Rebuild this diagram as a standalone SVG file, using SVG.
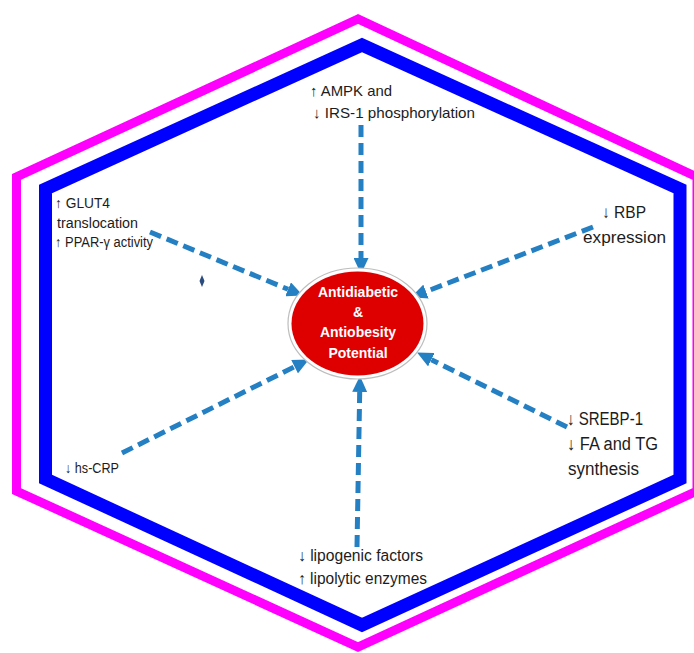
<svg xmlns="http://www.w3.org/2000/svg" width="694" height="653" viewBox="0 0 694 653">
<style>
.lbl{font-family:"Liberation Sans",Arial,sans-serif;fill:#1c1c1c;}
.ctr{font-family:"Liberation Sans",Arial,sans-serif;font-weight:bold;fill:#ffffff;font-size:14px;text-anchor:middle;}
.conn{stroke:#2480C3;stroke-width:5;stroke-dasharray:12 6;fill:none;marker-end:url(#ah);}
</style>
<defs>
<marker id="ah" markerUnits="userSpaceOnUse" markerWidth="16" markerHeight="15" refX="0" refY="7.5" orient="auto" viewBox="0 0 16 15">
<path d="M0,0 L16,7.5 L0,15 z" fill="#2480C3"/>
</marker>
</defs>
<rect width="694" height="653" fill="#ffffff"/>
<g id="hexagons">
<polygon points="358,19 16.5,177 16.5,491 358,647 697,491 697,177" fill="none" stroke="#FF00FF" stroke-width="9" stroke-linejoin="miter"/>
<polygon points="362,45 45.5,189 45.5,479 362,625 680,479 680,189" fill="none" stroke="#0000FF" stroke-width="13" stroke-linejoin="miter"/>
</g>
<g id="connectors">
<line class="conn" x1="361" y1="125" x2="361" y2="258"/>
<line class="conn" x1="150" y1="232" x2="288.1" y2="289.3"/>
<line class="conn" x1="593" y1="227" x2="426" y2="291.6"/>
<line class="conn" x1="122" y1="453" x2="294.6" y2="366.7"/>
<line class="conn" x1="567" y1="427" x2="431.4" y2="359.7"/>
<line class="conn" x1="357" y1="547" x2="359.7" y2="392"/>
</g>
<g id="center">
<ellipse cx="357.5" cy="323.5" rx="69.5" ry="55.5" fill="#ffffff" stroke="#bdbdbd" stroke-width="1.2"/>
<ellipse cx="357.5" cy="323.5" rx="66" ry="52" fill="#DE0000"/>
<text class="ctr" x="358" y="297">Antidiabetic</text>
<text class="ctr" x="358" y="317">&amp;</text>
<text class="ctr" x="358" y="337">Antiobesity</text>
<text class="ctr" x="358" y="358">Potential</text>
</g>
<g id="n-ampk">
<text class="lbl" font-size="15" x="310" y="96" textLength="82" lengthAdjust="spacingAndGlyphs">↑ AMPK and</text>
<text class="lbl" font-size="15" x="313" y="118" textLength="162" lengthAdjust="spacingAndGlyphs">↓ IRS-1 phosphorylation</text>
</g>
<g id="n-glut4">
<text class="lbl" font-size="14" x="55" y="208" textLength="55" lengthAdjust="spacingAndGlyphs">↑ GLUT4</text>
<text class="lbl" font-size="14" x="57" y="228" textLength="81" lengthAdjust="spacingAndGlyphs">translocation</text>
<text class="lbl" font-size="14" x="55" y="247" textLength="98" lengthAdjust="spacingAndGlyphs">↑ PPAR-γ activity</text>
</g>
<g id="n-rbp">
<text class="lbl" font-size="17" x="602" y="218" textLength="44" lengthAdjust="spacingAndGlyphs">↓ RBP</text>
<text class="lbl" font-size="17" x="583" y="243" textLength="83" lengthAdjust="spacingAndGlyphs">expression</text>
</g>
<g id="n-srebp">
<text class="lbl" font-size="18" x="567" y="425" textLength="76" lengthAdjust="spacingAndGlyphs">↓ SREBP-1</text>
<text class="lbl" font-size="18" x="567" y="450" textLength="91" lengthAdjust="spacingAndGlyphs">↓ FA and TG</text>
<text class="lbl" font-size="18" x="568" y="475" textLength="71" lengthAdjust="spacingAndGlyphs">synthesis</text>
</g>
<g id="n-hscrp">
<text class="lbl" font-size="14" x="65" y="473" textLength="54" lengthAdjust="spacingAndGlyphs">↓ hs-CRP</text>
</g>
<g id="n-lipo">
<text class="lbl" font-size="16" x="298" y="561" textLength="125" lengthAdjust="spacingAndGlyphs">↓ lipogenic factors</text>
<text class="lbl" font-size="16" x="298" y="584" textLength="129" lengthAdjust="spacingAndGlyphs">↑ lipolytic enzymes</text>
</g>
<g id="mark">
<path d="M202,275 L204.5,281 L202,287 L199.5,281 z" fill="#2B4C7E"/>
</g>
</svg>
